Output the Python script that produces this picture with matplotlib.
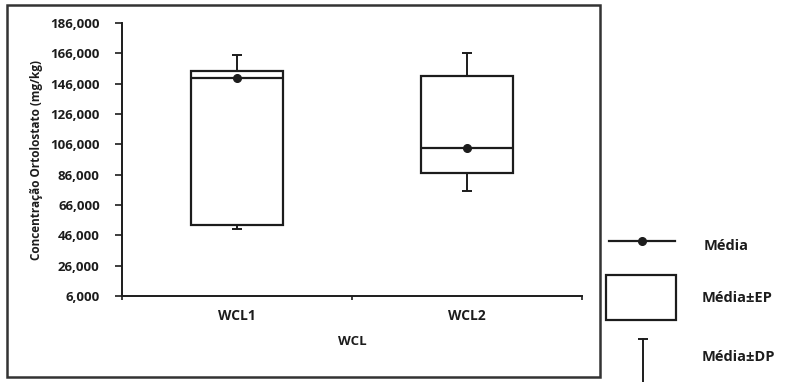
import matplotlib
matplotlib.use('Agg')
import matplotlib.pyplot as plt
from matplotlib.patches import Rectangle
from matplotlib.lines import Line2D

plt.rcParams['font.family'] = ['Open Sans', 'DejaVu Sans']

# values
groups = ['WCL1', 'WCL2']
means = [150000, 103600]
box_low = [52800, 87100]      # media - EP
box_high = [154300, 151000]   # media + EP
whisk_low = [50200, 75200]    # media - DP
whisk_high = [164900, 166200] # media + DP
y_ticks = list(range(6000, 186001, 20000))

ink = '#1c1c1c'

fig = plt.figure(figsize=(7.9, 3.82), dpi=100)
ax = fig.add_axes([0.1544, 0.2251, 0.5823, 0.7147])

x = [1, 2]
w = 0.4
heights = [h - l for h, l in zip(box_high, box_low)]
ax.bar(x, heights, bottom=box_low, width=w, color='white', edgecolor=ink, linewidth=1.6, zorder=2)
ax.hlines(means, [i - w / 2 for i in x], [i + w / 2 for i in x], color=ink, linewidth=1.6, zorder=3)
ax.plot(x, means, 'o', color=ink, markersize=5.5, zorder=4)

# whiskers (media +/- DP)
ax.vlines(x, box_high, whisk_high, color=ink, linewidth=1.4, zorder=1)
ax.vlines(x, whisk_low, box_low, color=ink, linewidth=1.4, zorder=1)
ax.plot(x, whisk_high, '_', color=ink, markersize=7, markeredgewidth=1.4)
ax.plot(x, whisk_low, '_', color=ink, markersize=7, markeredgewidth=1.4)

ax.set_xlim(0.5, 2.5)
ax.set_ylim(6000, 186000)
ax.set_yticks(y_ticks)
ax.set_yticklabels([f'{v:,}' for v in y_ticks], fontsize=9.5, fontweight='bold', color=ink)
ax.set_xticks([0.5, 1.5, 2.5])
ax.set_xticklabels([])
ax.set_xticks(x, minor=True)
ax.set_xticklabels(groups, minor=True, fontsize=10, fontweight='bold', color=ink)
ax.tick_params(axis='x', which='minor', length=0, pad=9)
ax.tick_params(axis='x', which='major', length=3, width=1.2, color=ink)
ax.tick_params(axis='y', length=5, width=1.2, color=ink, pad=11)
for s in ['top', 'right']:
    ax.spines[s].set_visible(False)
for s in ['left', 'bottom']:
    ax.spines[s].set_linewidth(1.4)
    ax.spines[s].set_color(ink)

ax.set_xlabel('WCL', fontsize=9.5, fontweight='bold', color=ink, labelpad=9)
ax.set_ylabel('Concentração Ortolostato (mg/kg)', fontsize=8.5, fontweight='bold', color=ink, labelpad=5)

# outer chart frame
fig.patches.append(Rectangle((0.0089, 0.0131), 0.7506, 0.9738, transform=fig.transFigure,
                             fill=False, edgecolor='#333333', linewidth=1.8))

# legend drawn outside the frame
fig.lines.append(Line2D([609 / 790, 675 / 790], [1 - 241 / 382] * 2, transform=fig.transFigure,
                        color=ink, linewidth=1.6))
fig.lines.append(Line2D([642 / 790], [1 - 241 / 382], transform=fig.transFigure,
                        marker='o', markersize=5.5, color=ink))
fig.patches.append(Rectangle((606 / 790, 1 - 320 / 382), 70 / 790, 45 / 382, transform=fig.transFigure,
                             fill=False, edgecolor=ink, linewidth=1.6))
fig.lines.append(Line2D([643 / 790] * 2, [1 - 339 / 382, 0], transform=fig.transFigure,
                        color=ink, linewidth=1.4))
fig.lines.append(Line2D([643 / 790], [1 - 339 / 382], transform=fig.transFigure,
                        marker='_', markersize=7, markeredgewidth=1.4, color=ink))
fig.text(704 / 790, 1 - 246 / 382, 'Média', fontsize=10.5, fontweight='bold', color=ink, va='center')
fig.text(702 / 790, 1 - 298 / 382, 'Média±EP', fontsize=10.5, fontweight='bold', color=ink, va='center')
fig.text(702 / 790, 1 - 357 / 382, 'Média±DP', fontsize=10.5, fontweight='bold', color=ink, va='center')

fig.savefig('out.png', dpi=100)
